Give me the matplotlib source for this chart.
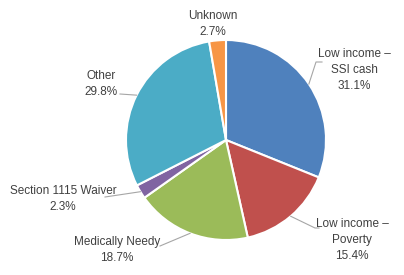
import numpy as np
import matplotlib
matplotlib.use('Agg')
from matplotlib import pyplot as plt

# 类别与占比
labels = ['Low income \u2013\nSSI cash', 'Low income \u2013\nPoverty', 'Medically Needy',
          'Section 1115 Waiver', 'Other', 'Unknown']
values = [31.1, 15.4, 18.7, 2.3, 29.8, 2.7]
colors = ['#4F81BD', '#C0504D', '#9BBB59', '#8064A2', '#4BACC6', '#F79646']

# 标签位置 (数据坐标, 半径=1)
label_pos = [(1.28, 0.70), (1.26, -1.00), (-1.09, -1.10), (-1.63, -0.59), (-1.25, 0.56), (-0.13, 1.16)]
# 引导线终点, None 表示无引导线
leader_pts = [[(0.90, 0.78), (0.96, 0.78)],
              [(0.89, -0.88), (0.93, -0.88)],
              [(-0.66, -1.06)],
              [(-1.21, -0.57)],
              [(-1.06, 0.46)],
              None]

plt.rcParams['font.family'] = ['Liberation Sans', 'DejaVu Sans']
fig = plt.figure(figsize=(4.04, 2.75), dpi=100)
ax = fig.add_axes([0, 0, 1, 1])
wedges, _ = ax.pie(values, colors=colors, startangle=90, counterclock=False, radius=1.0,
                   wedgeprops=dict(edgecolor='white', linewidth=1.5))
ax.set_xlim(-2.26, 1.78)
ax.set_ylim(-1.35, 1.40)
ax.set_aspect('equal')
ax.axis('off')

total = sum(values)
cum = 0
for i, v in enumerate(values):
    mid = 90 - (cum + v / 2) / total * 360
    cum += v
    x0, y0 = np.cos(np.radians(mid)), np.sin(np.radians(mid))
    txt = labels[i] + '\n' + '%.1f%%' % v
    ax.text(label_pos[i][0], label_pos[i][1], txt, ha='center', va='center',
            fontsize=8.5, color='#404040', linespacing=1.45)
    if leader_pts[i] is not None:
        xs = [x0] + [p[0] for p in leader_pts[i]]
        ys = [y0] + [p[1] for p in leader_pts[i]]
        ax.plot(xs, ys, color='#A6A6A6', linewidth=0.8)

plt.savefig('out.png')
